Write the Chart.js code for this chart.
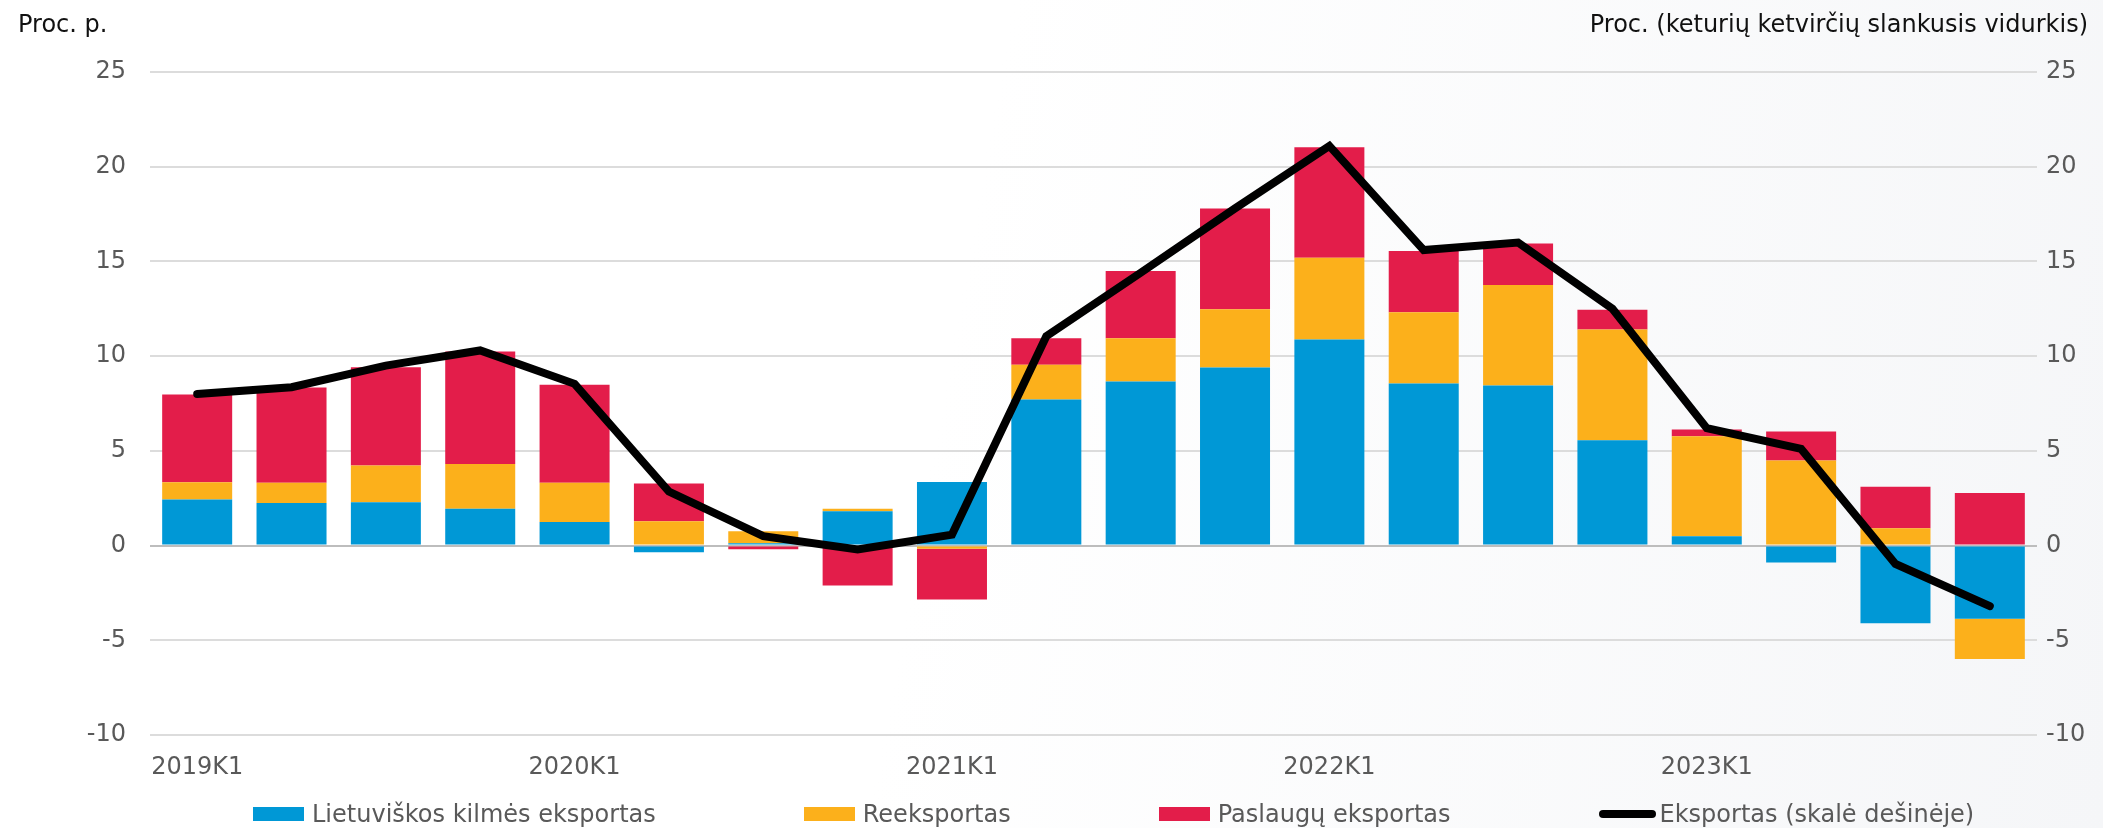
<!DOCTYPE html>
<html>
<head>
<meta charset="utf-8">
<script src="https://cdn.jsdelivr.net/npm/chart.js@4.4.0/dist/chart.umd.min.js"></script>
<style>
html,body{margin:0;padding:0;}
body{width:2103px;height:828px;overflow:hidden;position:relative;
  background:linear-gradient(100deg,#ffffff 45%,#f5f6f8 100%);
  font-family:'DejaVu Sans',sans-serif;}
#c{position:absolute;left:0;top:0;}
.unit{position:absolute;top:10px;font-size:24px;line-height:28px;color:#111;white-space:nowrap;}
#uL{left:18px;}
#uR{right:15px;}
#legend{position:absolute;left:253px;top:800px;height:28px;display:flex;align-items:center;gap:148px;
  font-size:24px;line-height:28px;color:#595959;white-space:nowrap;}
.item{display:flex;align-items:center;}
.sw{width:51px;height:14px;margin-right:8px;}
.ln{width:57px;height:8px;border-radius:4px;background:#000;margin-right:4px;}
</style>
</head>
<body>
<canvas id="c" width="2103" height="828"></canvas>
<div class="unit" id="uL">Proc. p.</div>
<div class="unit" id="uR">Proc. (keturių ketvirčių slankusis vidurkis)</div>
<div id="legend"></div>
<script>
// ---- data ----
const categories = [
  '2019K1','2019K2','2019K3','2019K4',
  '2020K1','2020K2','2020K3','2020K4',
  '2021K1','2021K2','2021K3','2021K4',
  '2022K1','2022K2','2022K3','2022K4',
  '2023K1','2023K2','2023K3','2023K4'
];
const lietuviskosKilmes = [2.43, 2.25, 2.29, 1.95, 1.25, -0.35, 0.12, 1.81, 3.35, 7.71, 8.66, 9.40, 10.88, 8.56, 8.45, 5.56, 0.49, -0.90, -4.10, -3.86];
const reeksportas       = [0.91, 1.06, 1.94, 2.35, 2.06, 1.28, 0.64, 0.14, -0.17, 1.84, 2.29, 3.07, 4.32, 3.76, 5.30, 5.84, 5.28, 4.49, 0.91, -2.13];
const paslaugos         = [4.64, 5.04, 5.19, 5.95, 5.18, 2.00, -0.20, -2.11, -2.68, 1.40, 3.54, 5.32, 5.83, 3.23, 2.20, 1.05, 0.36, 1.53, 2.19, 2.78];
const eksportas         = [8.0, 8.36, 9.5, 10.3, 8.54, 2.85, 0.5, -0.2, 0.58, 11.05, 14.4, 17.8, 21.1, 15.6, 16.0, 12.5, 6.2, 5.1, -0.97, -3.2];
const seriesNames = ['Lietuviškos kilmės eksportas', 'Reeksportas', 'Paslaugų eksportas', 'Eksportas (skalė dešinėje)'];
const seriesColors = ['#0098d6', '#fcb01b', '#e31d4a', '#000000'];
const yTickMin = -10, yTickMax = 25, yTickStep = 5;

Chart.defaults.font.family = "'DejaVu Sans', sans-serif";
Chart.defaults.font.size = 24;
Chart.defaults.color = '#595959';

const barCommon = {stack:'s', order:1, yAxisID:'y', categoryPercentage:1, barPercentage:0.742, borderWidth:0};

new Chart(document.getElementById('c'), {
  type: 'bar',
  data: {
    labels: categories,
    datasets: [
      Object.assign({label: seriesNames[0], data: lietuviskosKilmes, backgroundColor: seriesColors[0]}, barCommon),
      Object.assign({label: seriesNames[1], data: reeksportas, backgroundColor: seriesColors[1]}, barCommon),
      Object.assign({label: seriesNames[2], data: paslaugos, backgroundColor: seriesColors[2]}, barCommon),
      {type:'line', label: seriesNames[3], data: eksportas, yAxisID:'y1', order:0,
       borderColor: seriesColors[3], backgroundColor: seriesColors[3], borderWidth:8,
       pointRadius:0, pointHoverRadius:0, tension:0, fill:false,
       borderCapStyle:'round', borderJoinStyle:'miter'}
    ]
  },
  options: {
    responsive:false, animation:false, devicePixelRatio:1,
    layout:{padding:{top:72, bottom:46, left:0, right:0}},
    plugins:{legend:{display:false}, tooltip:{enabled:false}, title:{display:false}},
    scales:{
      x:{
        stacked:true,
        grid:{display:false, drawTicks:false},
        border:{display:false},
        ticks:{autoSkip:false, maxRotation:0, minRotation:0, padding:18, color:'#595959',
          callback:function(v, i){ const l = categories[i]; return l.endsWith('K1') ? l : ''; }},
        afterFit:function(s){ s.height = 47; }
      },
      y:{
        stacked:true, position:'left', min:yTickMin, max:yTickMax,
        ticks:{stepSize:yTickStep, padding:24, color:'#595959'},
        grid:{drawTicks:false, lineWidth:2,
          color:function(c){ return c.tick && c.tick.value === 0 ? '#bdbdbd' : '#dcdcdc'; }},
        border:{display:false},
        afterFit:function(s){ s.width = 150; }
      },
      y1:{
        position:'right', min:yTickMin, max:yTickMax,
        ticks:{stepSize:yTickStep, padding:9, color:'#595959'},
        grid:{display:false, drawTicks:false},
        border:{display:false},
        afterFit:function(s){ s.width = 66; }
      }
    }
  }
});

// HTML legend built from the series arrays
const lg = document.getElementById('legend');
seriesNames.forEach(function(name, i){
  const it = document.createElement('div'); it.className = 'item';
  const sw = document.createElement('div');
  sw.className = (i === 3) ? 'ln' : 'sw';
  if (i !== 3) sw.style.background = seriesColors[i];
  const tx = document.createElement('span'); tx.textContent = name;
  it.appendChild(sw); it.appendChild(tx); lg.appendChild(it);
});
</script>
</body>
</html>
